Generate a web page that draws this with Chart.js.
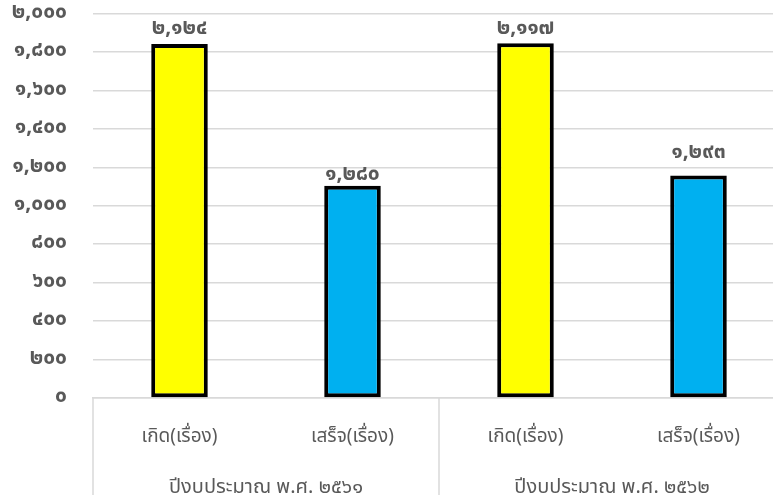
<!DOCTYPE html>
<html>
<head>
<meta charset="utf-8">
<script src="https://cdn.jsdelivr.net/npm/chart.js@4/dist/chart.umd.min.js"></script>
<style>
  html, body { margin: 0; padding: 0; overflow: hidden; background: #fff; }
  #wrap { position: absolute; left: 0; top: 0; width: 800px; height: 505px; }
</style>
</head>
<body>
<div id="wrap"><canvas id="mycanvas"></canvas></div>
<script>
// categories (two-level axis)
var items = ["เกิด(เรื่อง)", "เสร็จ(เรื่อง)", "เกิด(เรื่อง)", "เสร็จ(เรื่อง)"];
var years = ["ปีงบประมาณ พ.ศ. ๒๕๖๑", "ปีงบประมาณ พ.ศ. ๒๕๖๒"];
// bar heights as drawn in the picture
var barValues = [1842, 1104, 1846, 1157];
// numbers printed above the bars
var labelValues = [2124, 1280, 2117, 1293];
var barColors = ["#ffff00", "#00b0f0", "#ffff00", "#00b0f0"];

var thaiDigits = "๐๑๒๓๔๕๖๗๘๙";
function toThai(n) {
  var s = Math.round(n).toString().replace(/\B(?=(\d{3})+(?!\d))/g, ",");
  return s.replace(/\d/g, function(d){ return thaiDigits[+d]; });
}

var fontFam = "'Noto Sans Thai', 'Noto Sans', sans-serif";

var barLabels = {
  id: "barLabels",
  afterDatasetsDraw: function(chart) {
    var ctx = chart.ctx;
    var meta = chart.getDatasetMeta(0);
    var lift = [14, 10, 13, 22];
    ctx.save();
    ctx.font = "bold 21px " + fontFam;
    ctx.fillStyle = "#595959";
    ctx.textAlign = "center";
    ctx.textBaseline = "middle";
    meta.data.forEach(function(bar, i) {
      ctx.fillText(toThai(labelValues[i]), bar.x, bar.y - lift[i]);
    });
    ctx.restore();
  }
};

var groupLines = {
  id: "groupLines",
  afterDraw: function(chart) {
    var ctx = chart.ctx;
    var x = chart.scales.x;
    var bottom = chart.chartArea.bottom;
    var half = (x.getPixelForValue(1) - x.getPixelForValue(0)) / 2;
    ctx.save();
    ctx.strokeStyle = "#d9d9d9";
    ctx.lineWidth = 1.5;
    for (var g = 0; g <= years.length; g++) {
      var px = x.getPixelForValue(g * 2) - half;
      ctx.beginPath();
      ctx.moveTo(px, bottom);
      ctx.lineTo(px, chart.height);
      ctx.stroke();
    }
    ctx.restore();
  }
};

var ctx = document.getElementById("mycanvas");

var BarGraph = new Chart(ctx, {
  type: "bar",
  data: {
    labels: items,
    datasets: [{
      data: barValues,
      backgroundColor: barColors,
      borderColor: "#000000",
      borderWidth: 4,
      borderSkipped: false,
      barPercentage: 0.327,
      categoryPercentage: 1
    }]
  },
  plugins: [barLabels, groupLines],
  options: {
    responsive: true,
    maintainAspectRatio: false,
    animation: false,
    layout: { padding: { top: 0, right: 15, left: 0, bottom: 0 } },
    plugins: {
      legend: { display: false },
      tooltip: { enabled: false }
    },
    scales: {
      x: {
        position: "bottom",
        grid: { display: false },
        border: { color: "#d9d9d9", width: 1.5 },
        ticks: {
          color: "#595959",
          font: { family: fontFam, size: 19 },
          padding: 21,
          maxRotation: 0
        },
        afterFit: function(s) { s.height = 48; }
      },
      x2: {
        type: "category",
        position: "bottom",
        labels: years,
        offset: true,
        grid: { display: false },
        border: { display: false },
        ticks: {
          color: "#595959",
          font: { family: fontFam, size: 20 },
          padding: 23,
          maxRotation: 0
        },
        afterFit: function(s) { s.height = 59; }
      },
      y: {
        min: 0,
        max: 2000,
        ticks: {
          stepSize: 200,
          color: "#595959",
          font: { family: fontFam, size: 21, weight: "bold" },
          padding: 1,
          callback: function(v) { return toThai(v); }
        },
        grid: { color: "#d9d9d9", lineWidth: 1.5, drawTicks: true, tickLength: 25, tickColor: "rgba(0,0,0,0)" },
        border: { display: false },
        afterFit: function(s) { s.width = 93; }
      }
    }
  }
});
</script>
</body>
</html>
